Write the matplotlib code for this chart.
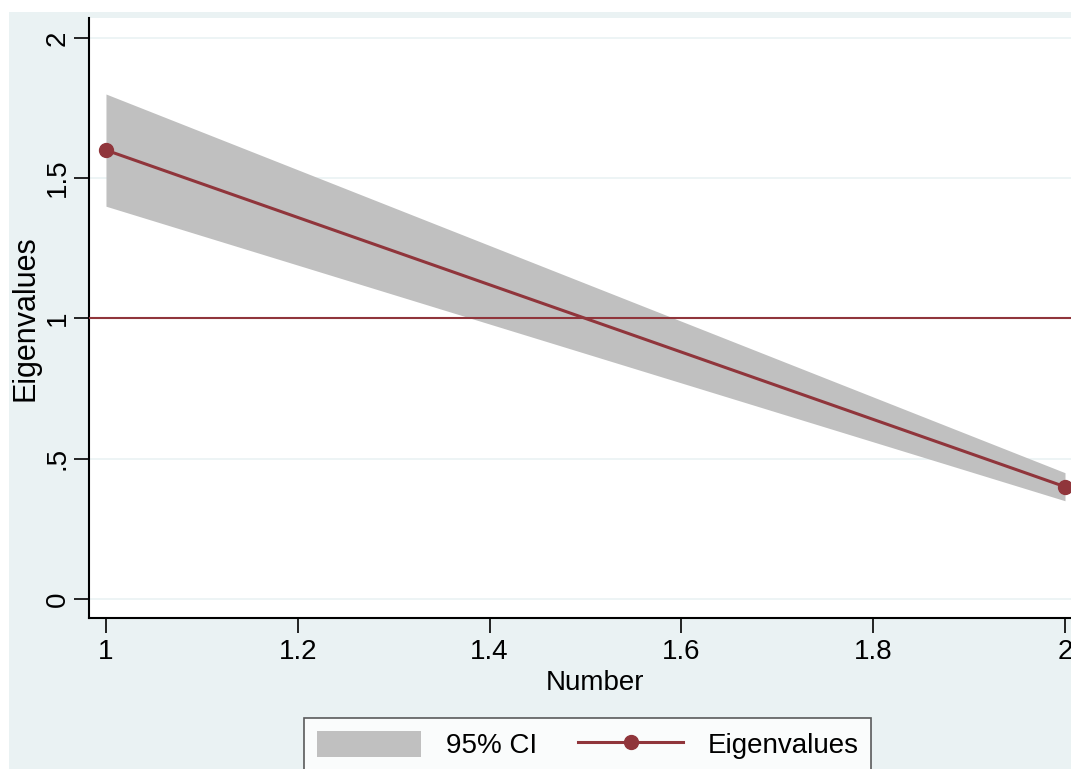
import matplotlib
matplotlib.use('Agg')
from matplotlib import pyplot as plt
from matplotlib.patches import Rectangle

plt.rcParams['font.family'] = ['Liberation Sans', 'DejaVu Sans']

number = [1, 2]
eigenvalues = [1.6, 0.4]
ci_lower = [1.40, 0.35]
ci_upper = [1.80, 0.45]
kaiser = 1.0

xticks = [1, 1.2, 1.4, 1.6, 1.8, 2]
xlabels = ['1', '1.2', '1.4', '1.6', '1.8', '2']
yticks = [0, 0.5, 1, 1.5, 2]
ylabels = ['0', '.5', '1', '1.5', '2']

line_col = '#90353B'
bg_col = '#EAF2F3'

W, H = 1071, 769
fig = plt.figure(figsize=(W / 100, H / 100), dpi=100)
fig.patch.set_facecolor('white')
fig.patches.append(Rectangle((9 / W, 0), 1, 1 - 12 / H, transform=fig.transFigure,
                             facecolor=bg_col, edgecolor='none', zorder=-10))

ax = fig.add_axes([89 / W, (H - 618) / H, 1011 / W, 600 / H])
ax.set_facecolor('white')

ax.fill_between(number, ci_lower, ci_upper, color='#C0C0C0', linewidth=0, label='95% CI', zorder=2)
ax.axhline(kaiser, color=line_col, linewidth=1.5, zorder=3)
ax.plot(number, eigenvalues, color=line_col, linewidth=2.2, marker='o', markersize=10,
        label='Eigenvalues', zorder=4)

for y in yticks:
    ax.axhline(y, color=bg_col, linewidth=1.2, zorder=1)

ax.set_xlim(0.9823, 2.0365)
ax.set_ylim(-0.068, 2.071)
ax.set_xticks(xticks)
ax.set_xticklabels(xlabels)
ax.set_yticks(yticks)
ax.set_yticklabels(ylabels, rotation=90, va='center')
ax.tick_params(axis='both', labelsize=20, length=11, width=1.2, color='black')
ax.tick_params(axis='y', pad=2)
ax.tick_params(axis='x', pad=4)

for s in ['top', 'right']:
    ax.spines[s].set_visible(False)
for s in ['left', 'bottom']:
    ax.spines[s].set_linewidth(1.5)

ax.set_xlabel('Number', fontsize=20, labelpad=4)
ax.set_ylabel('Eigenvalues', fontsize=22, labelpad=3.5)

h, l = ax.get_legend_handles_labels()
leg = fig.legend(h, l, ncol=2, loc='upper left', bbox_to_anchor=(304 / W, (H - 718) / H),
                 borderaxespad=0, fontsize=20, frameon=True, fancybox=False,
                 handlelength=3.75, handleheight=1.08, handletextpad=0.9,
                 columnspacing=1.5, borderpad=0.45)
leg.get_frame().set_edgecolor('#333333')
leg.get_frame().set_linewidth(1.2)
leg.get_frame().set_facecolor('white')

fig.savefig('out.png', dpi=100, facecolor=fig.get_facecolor())
